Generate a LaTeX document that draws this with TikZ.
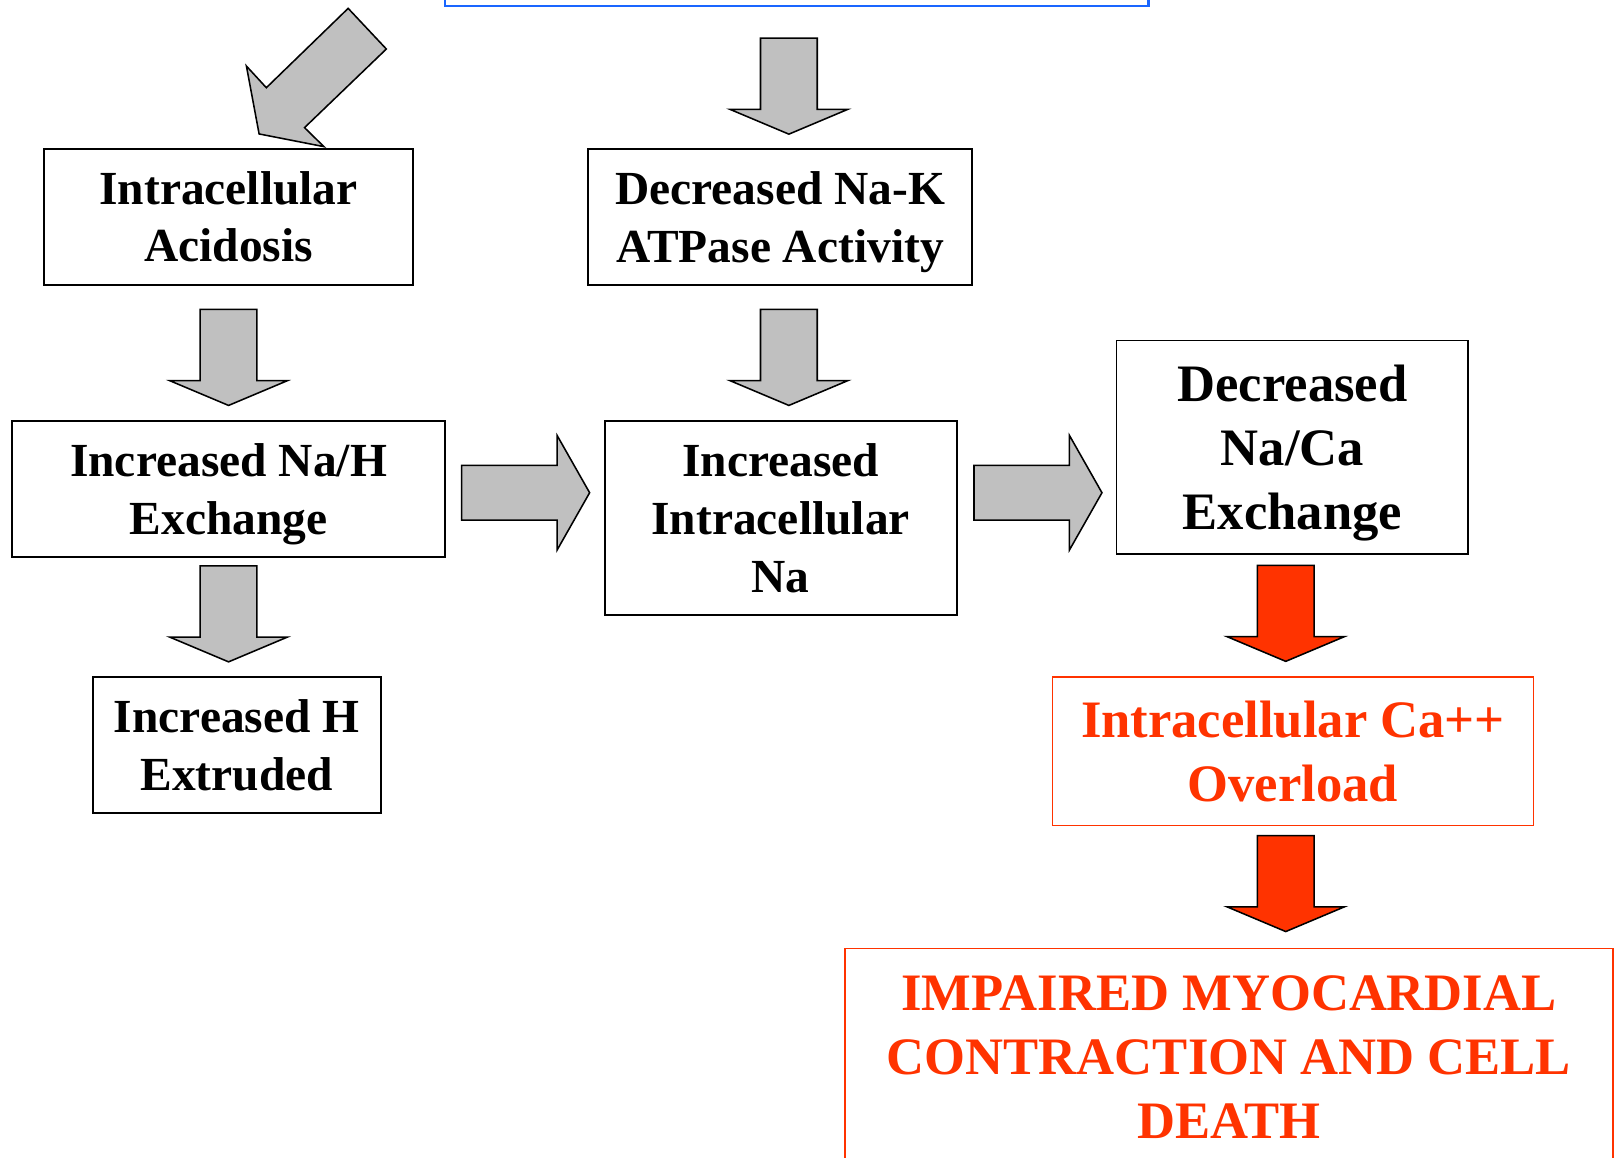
\documentclass[tikz,border=0pt]{standalone}
\usepackage{fontspec}
\setmainfont{Liberation Serif}
\usetikzlibrary{calc}
\definecolor{arrowgray}{RGB}{192,192,192}
\definecolor{alarmred}{RGB}{255,51,0}
\definecolor{causeblue}{RGB}{26,102,255}
% last line without descender depth
\newcommand{\nodepth}[1]{\raisebox{0pt}[\height][0pt]{#1}}
% block arrows: #1 = top centre (down) or tail centre (right)
\newcommand{\downblock}[2]{%
  \filldraw[fill=#2, draw=black, line width=1.5pt] #1 ++(-27.5,0) -- ++(55,0) -- ++(0,-69) -- ++(29.5,0) -- ++(-57,-24) -- ++(-57,24) -- ++(29.5,0) -- cycle;}
\newcommand{\rightblock}[1]{%
  \filldraw[fill=arrowgray, draw=black, line width=1.5pt] #1 ++(0,26.5) -- ++(92.5,0) -- ++(0,29) -- ++(31.5,-55.5) -- ++(-31.5,-55.5) -- ++(0,29) -- ++(-92.5,0) -- cycle;}
\begin{document}
\begin{tikzpicture}[x=1pt, y=1pt,
    box/.style={draw=black, line width=1.8pt, inner sep=0pt, align=center, font=\bfseries\fontsize{46}{56}\selectfont},
    bigbox/.style={box, font=\bfseries\fontsize{51}{62}\selectfont},
    redbox/.style={draw=alarmred, line width=1.5pt, inner sep=0pt, align=center, text=alarmred, font=\bfseries\fontsize{51}{62}\selectfont}]
  \useasboundingbox (0,0) rectangle (1568,-1122);
  \fill[white] (0,0) rectangle (1568,-1122);
  \clip (0,0) rectangle (1568,-1122);
  % boxes
  \node[draw=causeblue, line width=2pt, minimum width=682, minimum height=100] (cause) at (772,44) {};
  \node[box, minimum width=357, minimum height=132] (acid) at (221.5,-210) {Intracellular\\Acidosis};
  \node[box, minimum width=372, minimum height=132] (nak) at (756,-210) {Decreased Na-K\\\nodepth{ATPase Activity}};
  \node[box, minimum width=419, minimum height=132] (nah) at (221.5,-474) {Increased Na/H\\\nodepth{Exchange}};
  \node[box, minimum width=341, minimum height=188] (ina) at (756.5,-502) {Increased\\Intracellular\\Na};
  \node[bigbox, minimum width=341, minimum height=207] (naca) at (1252.5,-433.5) {Decreased\\Na/Ca\\\nodepth{Exchange}};
  \node[box, minimum width=279, minimum height=132] (hext) at (229.5,-722) {Increased H\\Extruded};
  \node[redbox, minimum width=466, minimum height=144] (caover) at (1253,-728) {Intracellular Ca++\\Overload};
  \node[redbox, minimum width=744, minimum height=210] (death) at (1191,-1024) {IMPAIRED MYOCARDIAL\\CONTRACTION AND CELL\\DEATH};
  % arrows
  \filldraw[fill=arrowgray, draw=black, line width=1.5pt] (337.4,-8.1) -- (374.4,-47.5) -- (295.1,-123.7) -- (313.9,-142.1) -- (251.1,-129.8) -- (238.8,-64) -- (258.1,-85) -- cycle;
  \downblock{($(cause.south)+(-7.5,-30)$)}{arrowgray}
  \downblock{($(acid.south)+(0,-23)$)}{arrowgray}
  \downblock{($(nak.south)+(8.5,-23)$)}{arrowgray}
  \downblock{($(nah.south)+(0,-7.5)$)}{arrowgray}
  \rightblock{($(nah.east)+(15.5,-3.5)$)}
  \rightblock{($(ina.east)+(16,24.5)$)}
  \downblock{($(naca.south)+(-6.5,-10)$)}{alarmred}
  \downblock{($(caover.south)+(-7,-9)$)}{alarmred}
\end{tikzpicture}
\end{document}
